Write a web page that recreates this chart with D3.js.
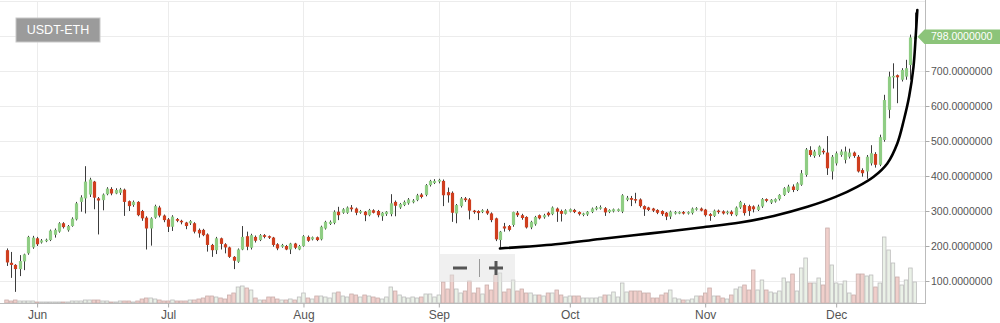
<!DOCTYPE html>
<html><head><meta charset="utf-8">
<script src="https://cdn.jsdelivr.net/npm/d3@7"></script>
<style>html,body{margin:0;padding:0;background:#fff;overflow:hidden}svg{display:block;font-family:"Liberation Sans",Arial,sans-serif}</style>
</head><body><svg id="chart" width="1000" height="323"></svg>
<script>
const pairLabel = "USDT-ETH";
const firstDay = "2017-05-25";
const opens = [
188,152,146,134,156,179,196,222,210,214,
217,232,241,265,245,257,276,326,336,347,
384,336,331,348,363,350,352,361,328,317,
326,300,281,250,281,310,287,276,255,277,
272,267,265,265,246,246,233,203,188,222,
205,196,169,155,190,228,195,226,217,231,
228,224,205,198,200,190,207,190,200,226,
219,225,219,250,263,266,298,295,295,310,
307,295,298,288,302,300,285,291,291,326,
310,317,322,325,331,347,346,374,380,384,
386,354,352,293,314,336,333,301,300,297,
301,293,279,217,256,257,260,295,288,283,
253,262,288,282,295,291,307,300,292,298,
303,297,289,290,297,305,307,308,297,299,
300,298,332,337,334,333,314,310,307,303,
300,295,284,293,294,297,293,294,304,307,
304,291,286,301,299,294,298,288,310,317,
314,313,303,313,334,324,327,334,346,355,
370,360,375,403,474,457,460,472,467,413,
436,460,446,455,467,455,417,413,436,463,
432,503,589,682,688,675,684,717,791];
const highs = [
193,183,148,174,178,229,229,226,220,221,
247,250,268,268,260,282,326,345,428,395,
386,340,350,368,368,365,366,364,330,330,
328,303,285,282,318,315,290,280,288,280,
275,269,274,268,250,249,236,206,226,224,
208,198,171,193,257,241,235,230,234,234,
230,226,208,206,203,209,209,203,231,230,
227,227,258,272,273,302,312,308,313,317,
310,303,300,306,305,303,297,300,348,330,
323,330,337,334,349,351,377,389,391,392,
390,367,356,320,340,340,337,303,302,305,
306,296,281,243,266,260,298,300,292,285,
272,286,290,292,298,313,310,304,305,307,
306,299,295,300,310,314,316,311,305,307,
307,348,343,343,352,336,316,312,309,305,
302,297,301,300,299,300,299,310,311,310,
306,294,304,304,302,301,302,313,329,322,
318,316,318,337,336,334,336,348,368,375,
376,382,417,480,485,475,487,478,514,460,
470,476,484,478,470,460,422,460,488,468,
518,632,698,722,690,708,732,804,867];
const lows = [
143,109,69,114,131,175,192,200,207,211,
214,224,238,250,241,255,273,298,293,340,
305,233,302,345,345,348,346,286,300,312,
285,272,190,201,278,282,268,240,243,268,
262,248,260,236,224,228,184,169,177,190,
179,166,134,152,188,188,190,210,214,222,
220,198,188,195,188,177,191,188,198,212,
216,214,216,247,260,262,274,292,292,298,
288,292,271,285,293,282,272,286,285,285,
306,314,318,322,328,336,342,370,377,379,
314,324,269,265,310,326,276,292,274,294,
289,268,214,193,241,242,255,283,275,250,
248,258,276,278,284,288,269,270,290,296,
294,287,285,286,294,302,304,286,294,296,
298,294,328,314,322,310,286,300,297,291,
286,274,277,290,291,290,290,290,301,299,
284,272,283,292,290,290,286,285,306,287,
286,296,300,309,325,320,324,330,343,352,
354,357,372,398,455,452,455,462,403,390,
430,455,436,450,452,410,398,392,430,424,
428,498,565,650,608,670,675,675,770];
const closes = [
153,146,134,157,176,226,224,205,216,218,
244,246,265,254,257,278,322,339,384,390,
338,330,347,364,350,360,362,326,314,326,
288,279,250,279,314,287,274,255,284,272,
269,257,271,241,236,231,203,188,222,206,
196,169,158,190,226,198,231,215,231,226,
224,203,193,203,190,207,195,200,228,215,
225,217,255,269,269,298,288,305,310,305,
295,300,288,303,295,288,295,298,322,315,
320,326,333,330,345,340,374,386,386,389,
345,345,295,317,336,331,301,298,294,302,
293,274,219,241,250,246,297,288,280,253,
269,283,279,288,288,310,298,292,302,305,
297,291,293,298,307,310,311,296,303,305,
305,345,338,332,332,314,305,303,301,295,
291,284,298,297,297,293,297,307,308,301,
288,286,301,297,293,298,291,310,326,294,
300,305,313,334,329,332,334,346,365,370,
360,379,408,476,460,470,484,469,422,455,
465,470,470,467,457,413,408,455,465,432,
511,617,684,686,682,703,708,796,798];
const volumes = [
3,2,3,2,2,2,2,1,1,1,
1,1,1,1,1,2,2,2,3,3,
3,3,2,2,1,1,2,2,2,1,
2,4,5,5,4,3,2,2,3,2,
2,2,3,3,4,5,7,7,6,5,
4,8,10,16,17,15,13,5,3,3,
6,6,4,3,3,4,3,6,10,5,
4,7,7,6,5,10,11,7,6,9,
8,6,8,7,6,5,4,6,16,12,
8,6,5,6,5,6,9,9,6,8,
21,14,28,14,10,12,22,10,15,9,
18,13,28,30,11,14,23,12,14,10,
10,8,8,7,10,10,13,8,6,7,
7,7,5,5,5,5,6,8,8,11,
6,20,11,12,12,12,10,10,5,5,
8,10,13,5,4,3,3,4,7,7,
10,15,7,7,5,4,8,14,16,18,
13,33,13,23,13,11,10,12,25,21,
29,12,35,45,20,20,25,18,75,38,
20,19,22,10,8,29,29,27,28,16,
20,66,53,40,26,18,23,35,21];
const monthTicks = ["2017-06-01","2017-07-01","2017-08-01","2017-09-01","2017-10-01","2017-11-01","2017-12-01"];
const monthLabels = ["Jun","Jul","Aug","Sep","Oct","Nov","Dec"];
const priceTicks = [100,200,300,400,500,600,700];
const gridValues = [100,200,300,400,500,600,700,800,900];
const lastPrice = 798;
const trendDates = ["2017-09-15T00:00","2017-09-27T17:00","2017-10-08T00:00","2017-10-19T12:00","2017-10-31T00:00","2017-11-09T00:00","2017-11-16T17:00","2017-11-24T10:00","2017-12-01T00:00","2017-12-05T19:00","2017-12-09T14:00","2017-12-12T17:00","2017-12-15T00:00","2017-12-16T12:00","2017-12-17T17:00","2017-12-18T17:00","2017-12-19T05:00","2017-12-19T14:00"];
const trendValues = [193,205,220,236,253,267,286,312,341,369,398,436,493,560,627,712,798,874];

const parseDay = d3.utcParse("%Y-%m-%d");
const parseTime = d3.utcParse("%Y-%m-%dT%H:%M");
const day0 = parseDay(firstDay);
const data = opens.map((o, i) => ({
  date: d3.utcDay.offset(day0, i), o, h: highs[i], l: lows[i], c: closes[i], v: volumes[i]
}));

const W = 1000, plotRight = 925.5, plotBottom = 303;
const svg = d3.select("#chart");
const x = d3.scaleUtc()
  .domain([parseTime("2017-05-23T12:00"), parseTime("2017-12-21T11:00")])
  .range([0, plotRight]);
const y = d3.scaleLinear().domain([0, 900]).range([316, 1]);
const yVol = d3.scaleLinear().domain([0, 100]).range([plotBottom, plotBottom - 100]);
const dayW = x(d3.utcDay.offset(day0, 1)) - x(day0);

// grid
const grid = svg.append("g");
grid.selectAll("line.h").data(gridValues).join("line")
  .attr("x1", 0).attr("x2", plotRight)
  .attr("y1", d => Math.round(y(d)) + 0.5).attr("y2", d => Math.round(y(d)) + 0.5)
  .attr("stroke", "#ececec").attr("stroke-width", 1);
grid.selectAll("line.v").data(monthTicks).join("line")
  .attr("x1", d => Math.round(x(parseDay(d))) + 0.5).attr("x2", d => Math.round(x(parseDay(d))) + 0.5)
  .attr("y1", 1).attr("y2", plotBottom)
  .attr("stroke", "#ececec").attr("stroke-width", 1);

// volume
const bw = dayW - 0.8;
svg.append("g").selectAll("rect").data(data).join("rect")
  .attr("x", d => x(d.date) - bw / 2)
  .attr("y", d => yVol(d.v))
  .attr("width", bw)
  .attr("height", d => plotBottom - yVol(d.v))
  .attr("fill", d => d.c >= d.o ? "#eaf1e7" : "#f0cfcb")
  .attr("stroke", d => d.c >= d.o ? "#bdbdbd" : "#c9aeab")
  .attr("stroke-width", 0.8);

// candles
const cg = svg.append("g");
cg.selectAll("line").data(data).join("line")
  .attr("x1", d => Math.round(x(d.date)) + 0.5).attr("x2", d => Math.round(x(d.date)) + 0.5)
  .attr("y1", d => y(d.h)).attr("y2", d => y(d.l))
  .attr("stroke", "#3c3c3c").attr("stroke-width", 1);
const cw = 3.2;
cg.selectAll("rect").data(data).join("rect")
  .attr("x", d => Math.round(x(d.date)) + 0.5 - cw / 2)
  .attr("y", d => y(Math.max(d.o, d.c)))
  .attr("width", cw)
  .attr("height", d => Math.max(1.5, Math.abs(y(d.o) - y(d.c))))
  .attr("fill", d => d.c >= d.o ? "#8fcd84" : "#cf3e1e");

// trend annotation
const trend = trendDates.map((t, i) => [x(parseTime(t)), y(trendValues[i])]);
svg.append("path").attr("d", d3.line().curve(d3.curveCatmullRom.alpha(0.5))(trend))
  .attr("fill", "none").attr("stroke", "#000").attr("stroke-width", 2.6).attr("stroke-linecap", "round");

// axes lines
svg.append("line").attr("x1", 0).attr("x2", plotRight).attr("y1", plotBottom + 0.5).attr("y2", plotBottom + 0.5)
  .attr("stroke", "#bbb");
svg.append("line").attr("x1", plotRight).attr("x2", plotRight).attr("y1", 0).attr("y2", plotBottom + 1)
  .attr("stroke", "#bbb");

// x axis
const xAxis = svg.append("g").attr("transform", `translate(0,${plotBottom + 0.5})`)
  .call(d3.axisBottom(x).tickValues(monthTicks.map(parseDay))
    .tickFormat((d, i) => monthLabels[i]).tickSize(4).tickPadding(3));
xAxis.select(".domain").remove();
xAxis.selectAll(".tick line").attr("stroke", "#aaa");
xAxis.selectAll("text").attr("fill", "#555").style("font-size", "12px").style("font-family", '"Liberation Sans",Arial,sans-serif');

// y axis
const yAxis = svg.append("g").attr("transform", `translate(${plotRight},0)`)
  .call(d3.axisRight(y).tickValues(priceTicks).tickFormat(d3.format(".7f")).tickSize(4).tickPadding(1.5));
yAxis.select(".domain").remove();
yAxis.selectAll(".tick line").attr("stroke", "#aaa");
yAxis.selectAll("text").attr("fill", "#555").style("font-size", "10.5px").style("font-family", '"Liberation Sans",Arial,sans-serif');

// last price tag
const ly = y(lastPrice);
svg.append("path")
  .attr("d", `M${plotRight - 8},${ly} L${plotRight - 1},${ly - 7.2} L${W},${ly - 7.2} L${W},${ly + 7.2} L${plotRight - 1},${ly + 7.2} Z`)
  .attr("fill", "#8cc47a");
svg.append("text").attr("x", plotRight + 5.5).attr("y", ly).attr("dy", "0.35em")
  .attr("fill", "#fff").style("font-size", "10.5px").text(d3.format(".7f")(lastPrice));

// pair label
svg.append("rect").attr("x", 16).attr("y", 18).attr("width", 84).attr("height", 24)
  .attr("fill", "#9b9b9b").attr("stroke", "#c8c8c8").attr("stroke-width", 1);
svg.append("text").attr("x", 58).attr("y", 30).attr("dy", "0.35em").attr("text-anchor", "middle")
  .attr("fill", "#fff").style("font-size", "12.5px").text(pairLabel);

// zoom buttons
const zb = svg.append("g");
zb.append("rect").attr("x", 440).attr("y", 254).attr("width", 75).attr("height", 28)
  .attr("fill", "rgba(225,225,225,0.5)");
zb.append("line").attr("x1", 453).attr("x2", 467).attr("y1", 268).attr("y2", 268).attr("stroke", "#555").attr("stroke-width", 3);
zb.append("line").attr("x1", 479.5).attr("x2", 479.5).attr("y1", 259).attr("y2", 277).attr("stroke", "#999").attr("stroke-width", 1);
zb.append("line").attr("x1", 489).attr("x2", 503).attr("y1", 268).attr("y2", 268).attr("stroke", "#555").attr("stroke-width", 3);
zb.append("line").attr("x1", 496).attr("x2", 496).attr("y1", 261).attr("y2", 275).attr("stroke", "#555").attr("stroke-width", 3);
</script></body></html>
